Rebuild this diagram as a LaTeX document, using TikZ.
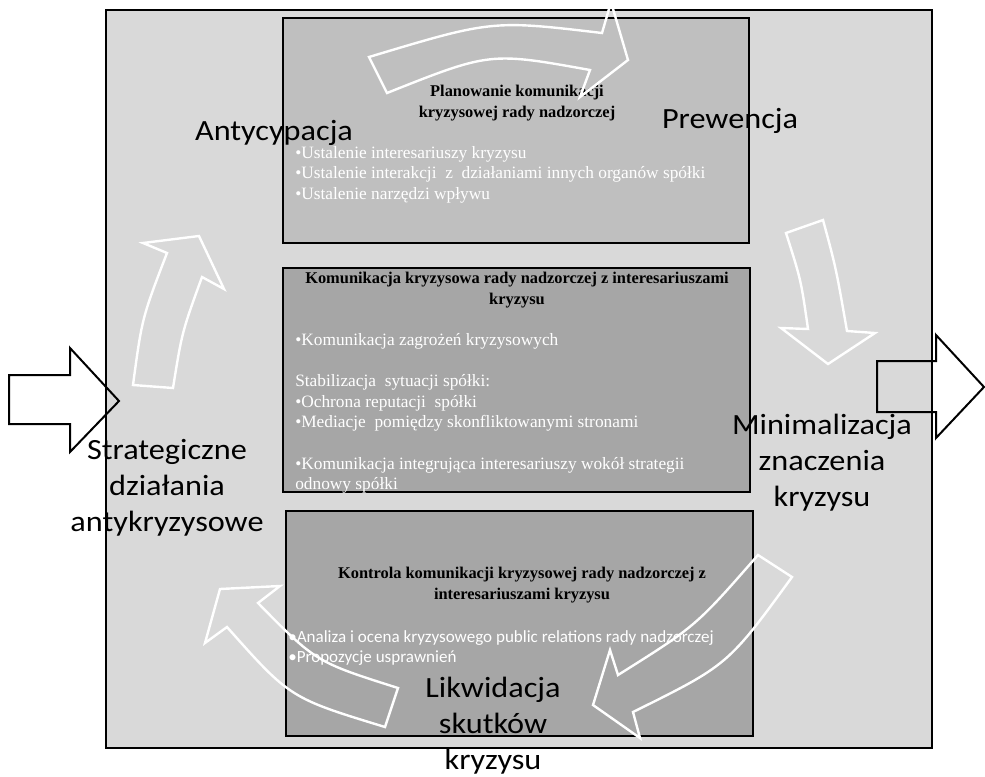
\documentclass[tikz,border=0pt]{standalone}
\usepackage{fontspec}
\setmainfont{Liberation Serif}
\newfontfamily\calib{Carlito}
\newfontfamily\calibwide[FakeStretch=1.1]{Carlito}

\begin{document}
\begin{tikzpicture}[x=0.75pt,y=-0.75pt,
  panel/.style={draw=black,line width=1.5pt},
  blockarrow/.style={draw=black,line width=1.5pt,line join=miter},
  flow/.style={draw=white,line width=1.8pt,line join=miter},
  phase/.style={font=\calibwide\fontsize{22}{27}\selectfont,align=center,inner sep=0pt},
  heading/.style={font=\bfseries\fontsize{12.3}{15.5}\selectfont,align=center,inner sep=0pt},
  items/.style={font=\fontsize{13}{15.5}\selectfont,text=white,align=left,inner sep=0pt}]
\useasboundingbox (0,0) rectangle (985,776);
\fill[white] (0,0) rectangle (985,776);
\filldraw[panel,fill=black!15] (106,10) rectangle (932,748);
\filldraw[panel,fill=black!25] (283,18) rectangle (749,243);
\filldraw[panel,fill=black!35] (283,268) rectangle (750,492);
\filldraw[panel,fill=black!35] (286,511) rectangle (753,736);
\node[heading,anchor=north] (planowanie) at (517,85) {Planowanie komunikacji\\kryzysowej rady nadzorczej};
\node[items,anchor=north west] (planlist) at (295,146) {•Ustalenie interesariuszy kryzysu\\•Ustalenie interakcji \ z \ działaniami innych organów spółki\\•Ustalenie narzędzi wpływu};
\node[heading,anchor=north] (komunikacja) at (517,272) {Komunikacja kryzysowa rady nadzorczej z interesariuszami\\kryzysu};
\node[items,anchor=north west] (komlist) at (295,333) {•Komunikacja zagrożeń kryzysowych\\[15.5pt]Stabilizacja \ sytuacji spółki:\\•Ochrona reputacji \ spółki\\•Mediacje \ pomiędzy skonfliktowanymi stronami\\[15.5pt]•Komunikacja integrująca interesariuszy wokół strategii\\odnowy spółki};
\node[heading,anchor=north] (kontrola) at (522,567) {Kontrola komunikacji kryzysowej rady nadzorczej z\\interesariuszami kryzysu};
\node[items,font=\calib\fontsize{12.8}{15}\selectfont,anchor=north west] (kontlist) at (288,630) {•Analiza i ocena kryzysowego public relations rady nadzorczej\\•Propozycje usprawnień};
\draw[blockarrow] (9,375) -- (70,375) -- (70,348) -- (119,401) -- (70,452) -- (70,424) -- (9,424) -- cycle;
\draw[blockarrow] (877,361) -- (936,361) -- (936,335) -- (984,387) -- (936,438) -- (936,412) -- (877,412) -- cycle;
\draw[flow] (369,57) .. controls (492,20) .. (602,33) -- (611,2) -- (628,60) -- (580,97) -- (590,70) .. controls (490,52) .. (387,93) -- cycle;
\draw[flow] (786,233) -- (823,220) .. controls (836,268) .. (847,331) -- (875,333) -- (828,364) -- (781,328) -- (808,329) .. controls (801,280) .. (786,233) -- cycle;
\draw[flow] (758,555) -- (792,577) .. controls (728,665) .. (633,712) -- (640,738) -- (593,705) -- (610,650) -- (618,675) .. controls (696,626) .. (758,555) -- cycle;
\draw[flow] (398,688) -- (385,727) .. controls (290,698) .. (227,627) -- (205,643) -- (220,589) -- (280,586) -- (258,603) .. controls (316,662) .. (398,688) -- cycle;
\draw[flow] (133,385) -- (173,388) .. controls (182,332) .. (202,277) -- (224,289) -- (199,236) -- (143,243) -- (167,253) .. controls (142,318) .. (133,385) -- cycle;
\node[phase,anchor=base] (antycypacja) at (274,140) {Antycypacja};
\node[phase,anchor=base] (prewencja) at (730,128) {Prewencja};
\node[phase,anchor=north] (minimalizacja) at (822,414) {Minimalizacja\\znaczenia\\kryzysu};
\node[phase,anchor=north] (likwidacja) at (493,677) {Likwidacja\\skutków\\kryzysu};
\node[phase,anchor=north] (strategiczne) at (167,439) {Strategiczne\\działania\\antykryzysowe};
\end{tikzpicture}
\end{document}
